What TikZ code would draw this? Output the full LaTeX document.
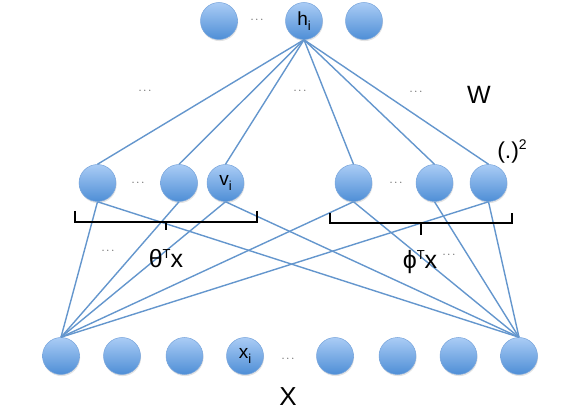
\documentclass[tikz,border=0pt]{standalone}
\usepackage{fontspec}
\setmainfont{Liberation Sans}
\usetikzlibrary{shadows}
\definecolor{ctop}{RGB}{170,204,245}
\definecolor{cbot}{RGB}{78,142,214}
\definecolor{cedge}{RGB}{120,165,220}
\definecolor{cline}{RGB}{100,150,205}
\tikzset{
  neuron/.style={circle, minimum size=37pt, inner sep=0pt, top color=ctop, bottom color=cbot,
    draw=cedge, line width=0.5pt,
    drop shadow={opacity=0.22, shadow xshift=0.6pt, shadow yshift=-1.6pt},
    font=\fontsize{19}{19}\selectfont},
  conn/.style={draw=cline, line width=1.4pt},
  dots/.style={inner sep=0pt, font=\fontsize{11}{11}\selectfont, text=black!80},
  lbl/.style={inner sep=0pt, font=\fontsize{25}{25}\selectfont},
  brk/.style={draw=black, line width=1.5pt}
}
\newcommand{\sub}[1]{\raisebox{-5pt}{\fontsize{13}{13}\selectfont #1}}
\begin{document}
\begin{tikzpicture}[x=1pt,y=-1pt]
\useasboundingbox (0,0) rectangle (581,411);
% top layer
\node[neuron] (t1) at (219,21) {};
\node[neuron] (hi) at (304,21) {h\sub{i}};
\node[neuron] (t3) at (364,21) {};
% middle layer
\node[neuron] (m1) at (97.5,183) {};
\node[neuron] (m2) at (179,183) {};
\node[neuron] (vi) at (225.5,183) {v\sub{i}};
\node[neuron] (m4) at (353.5,183) {};
\node[neuron] (m5) at (434.5,183) {};
\node[neuron] (m6) at (488.5,183) {};
% bottom layer
\node[neuron] (b1) at (61,356) {};
\node[neuron] (b2) at (122,356) {};
\node[neuron] (b3) at (184.5,356) {};
\node[neuron] (xi) at (245,356) {x\sub{i}};
\node[neuron] (b5) at (335,356) {};
\node[neuron] (b6) at (397.5,356) {};
\node[neuron] (b7) at (458.5,356) {};
\node[neuron] (b8) at (519,356) {};
% connections top
\foreach \m in {m1,m2,vi,m4,m5,m6}
  \draw[conn] (hi.south) -- (\m.north);
% connections bottom-left
\foreach \m in {m1,m2,vi,m4,m6}
  \draw[conn] (b1.north) -- (\m.south);
% connections bottom-right
\foreach \m in {m1,vi,m4,m5,m6}
  \draw[conn] (b8.north) -- (\m.south);
% brackets
\coordinate (la) at (75,211); \coordinate (lb) at (257,211);
\coordinate (lt) at (166,230);
\draw[brk] (la) -- (75,222) -- (257,222) -- (lb);
\draw[brk] (166,222) -- (lt);
\coordinate (ra) at (330,213); \coordinate (rb) at (512,213);
\coordinate (rt) at (421,235);
\draw[brk] (ra) -- (330,223) -- (512,223) -- (rb);
\draw[brk] (421,223) -- (rt);
% dots
\node[dots] (d1) at (257,20) {$\cdots$};
\node[dots] (d2) at (138,183) {$\cdots$};
\node[dots] (d3) at (396,183) {$\cdots$};
\node[dots] (d4) at (145,91) {$\cdots$};
\node[dots] (d5) at (300,91) {$\cdots$};
\node[dots] (d6) at (416,92) {$\cdots$};
\node[dots] (d7) at (108,251) {$\cdots$};
\node[dots] (d8) at (449,255) {$\cdots$};
\node[dots] (d9) at (288,359) {$\cdots$};
% labels
\node[lbl] (theta) at (166,259) {θ\raisebox{9pt}{\fontsize{13}{13}\selectfont T}x};
\node[lbl] (phi) at (420,262) {ϕ\raisebox{9pt}{\fontsize{13}{13}\selectfont T}x};
\node[lbl] (W) at (479,95) {W};
\node[lbl, font=\fontsize{23}{23}\selectfont] (sq) at (512,151) {(.)\raisebox{9pt}{\fontsize{14}{14}\selectfont 2}};
\node[lbl, font=\fontsize{26}{26}\selectfont] (X) at (288,397) {X};
\end{tikzpicture}
\end{document}
